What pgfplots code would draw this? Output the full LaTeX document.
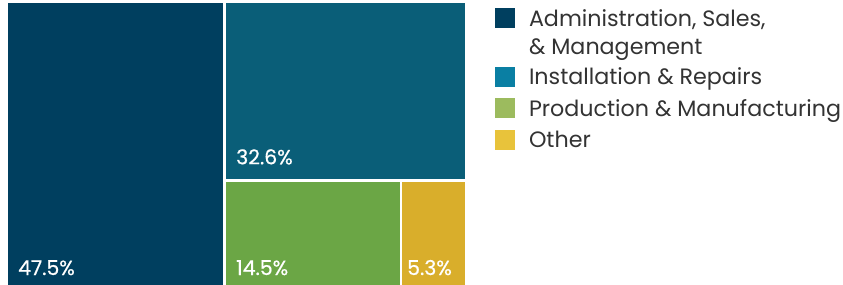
\documentclass[border=0pt]{standalone}
\usepackage{pgfplots}
\pgfplotsset{compat=1.18}
\usepackage{fontspec}
\setmainfont{Poppins}
\newfontfamily\labelfont{Poppins}[FakeBold=0.6]
\definecolor{cAdm}{HTML}{003F5F}
\definecolor{cIns}{HTML}{0A5E78}
\definecolor{cPro}{HTML}{6BA645}
\definecolor{cOth}{HTML}{D9AE2B}
\definecolor{lAdm}{HTML}{003F5F}
\definecolor{lIns}{HTML}{0A7FA3}
\definecolor{lPro}{HTML}{9CBB5E}
\definecolor{lOth}{HTML}{E8C33B}
\definecolor{txt}{HTML}{333333}
\tikzset{lbl/.style={font=\labelfont\fontsize{20.5}{23}\selectfont, text=white, anchor=base west, inner sep=0pt}}
\begin{document}
\begin{tikzpicture}
\begin{axis}[
  scale only axis, width=843bp, height=285bp,
  xmin=0, xmax=843, ymin=0, ymax=285, y dir=reverse,
  hide axis, clip=false,
  legend style={at={(axis cs:495,8)}, anchor=north west, draw=none, fill=none,
    inner sep=0pt, outer sep=0pt, column sep=0pt, row sep=0pt,
    font=\fontsize{22.3}{26}\selectfont, text=txt,
    nodes={inner sep=0pt, outer sep=0pt, text depth={}}, cells={anchor=base west}},
  legend image code/.code={\fill[#1] (0bp,-2bp) rectangle (20bp,18bp); \path (34bp,0bp);},
]
\path (axis cs:0,0) (axis cs:843,285);
% treemap tiles: corners in pixels (x0,y0)-(x1,y1)
\addplot[fill=cAdm, draw=none, forget plot] coordinates {(8,3.5) (222.5,3.5) (222.5,285) (8,285)} -- cycle;
\addplot[fill=cIns, draw=none, forget plot] coordinates {(226.3,3.5) (465,3.5) (465,179) (226.3,179)} -- cycle;
\addplot[fill=cPro, draw=none, forget plot] coordinates {(226.3,181.7) (400,181.7) (400,285) (226.3,285)} -- cycle;
\addplot[fill=cOth, draw=none, forget plot] coordinates {(402.3,181.7) (465,181.7) (465,285) (402.3,285)} -- cycle;
\node[lbl] at (axis cs:18,275) {47.5\%};
\node[lbl] at (axis cs:236,164.3) {32.6\%};
\node[lbl] at (axis cs:236,275) {14.5\%};
\node[lbl] at (axis cs:407,275) {5.3\%};
\addlegendimage{fill=lAdm, draw=none}
\addlegendentry{\rule[-12.5bp]{0pt}{18bp}Administration, Sales,}
\addlegendimage{empty legend}
\addlegendentry{\rule[-12.5bp]{0pt}{19bp}\& Management}
\addlegendimage{fill=lIns, draw=none}
\addlegendentry{\rule[-13.5bp]{0pt}{18bp}Installation \& Repairs}
\addlegendimage{fill=lPro, draw=none}
\addlegendentry{\rule[-13.5bp]{0pt}{18bp}Production \& Manufacturing}
\addlegendimage{fill=lOth, draw=none}
\addlegendentry{\rule[-2bp]{0pt}{18bp}Other}
\end{axis}
\end{tikzpicture}
\end{document}
